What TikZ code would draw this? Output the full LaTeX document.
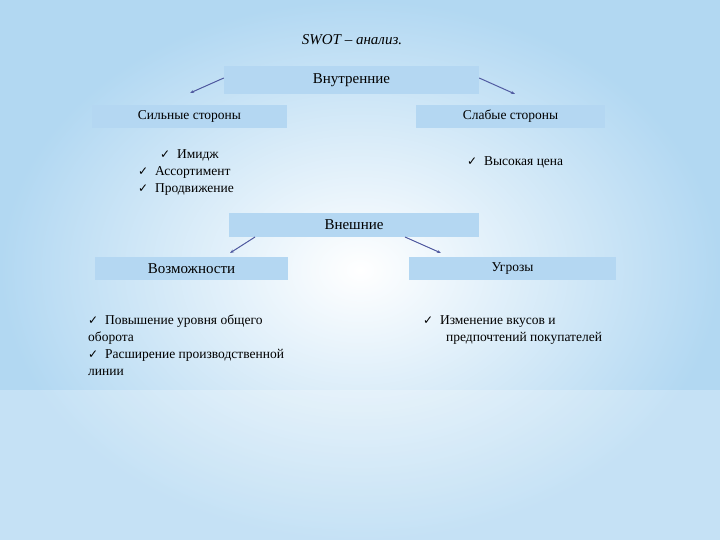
\documentclass[tikz,border=0pt]{standalone}
\usepackage{fontspec}
\setmainfont{Liberation Serif}
\newfontfamily\djfont{DejaVu Sans}
\usetikzlibrary{arrows.meta}
\definecolor{boxc}{RGB}{180,215,242}
\definecolor{bgout}{RGB}{178,216,242}
\definecolor{arr}{RGB}{80,90,160}
\newcommand{\ck}{{\djfont\fontsize{12}{12}\selectfont ✓}}
\tikzset{bx/.style={fill=boxc,draw=none,inner sep=0pt,font=\fontsize{13.5}{16}\selectfont},
 ar/.style={draw=arr,line width=1pt,-{Stealth[length=4pt,width=3pt]}},
 tx/.style={align=left,font=\fontsize{13.5}{17}\selectfont,inner sep=0pt}}
\begin{document}
\begin{tikzpicture}[x=1pt,y=-1pt]
\useasboundingbox (0,0) rectangle (720,540);
\shade[inner color=white,outer color=bgout] (0,0) rectangle (720,540);
\shade[top color=white,bottom color=white,middle color=white,opacity=0.25] (0,390) rectangle (720,540);
\node[font=\itshape\fontsize{15}{17}\selectfont] (t) at (352,40) {SWOT – анализ.};
\node[bx,minimum width=255pt,minimum height=28pt,font=\fontsize{15}{17}\selectfont] (vn) at (351.5,80) {Внутренние};
\node[bx,minimum width=195pt,minimum height=23pt] (s) at (189.5,116.5) {Сильные стороны};
\node[bx,minimum width=189pt,minimum height=23pt] (w) at (510.5,116.5) {Слабые стороны};
\node[bx,minimum width=250pt,minimum height=24pt,font=\fontsize{15}{17}\selectfont] (ex) at (354,225) {Внешние};
\node[bx,minimum width=193pt,minimum height=23pt,font=\fontsize{15}{17}\selectfont] (o) at (191.5,268.5) {Возможности};
\node[bx,minimum width=207pt,minimum height=23pt] (th) at (512.5,268.5) {Угрозы};
\coordinate (a1) at (190,93); \coordinate (a2) at (515,94);
\coordinate (a3) at (230,253); \coordinate (a4) at (441,253);
\draw[ar] (vn.west) ++(0,-2) -- (a1);
\draw[ar] (vn.east) ++(0,-2) -- (a2);
\draw[ar] (255,237) -- (a3);
\draw[ar] (405,237) -- (a4);
\node[tx,anchor=north west] (l1) at (160,149) {\ck\ \ Имидж};
\node[tx,anchor=north west] (l2) at (138,166) {\ck\ \ Ассортимент\\\ck\ \ Продвижение};
\node[tx,anchor=west] (l3) at (467,162) {\ck\ \ Высокая цена};
\node[tx,anchor=north west,text width=215pt,align=justify] (l4) at (88,315) {\ck\ \ Повышение уровня общего\\\hspace{23pt}оборота\\\ck\ \ Расширение производственной\\\hspace{23pt}линии};
\node[tx,anchor=north west] (l5) at (423,315) {\ck\ \ Изменение вкусов и\\\hspace{23pt}предпочтений покупателей};
\end{tikzpicture}
\end{document}
